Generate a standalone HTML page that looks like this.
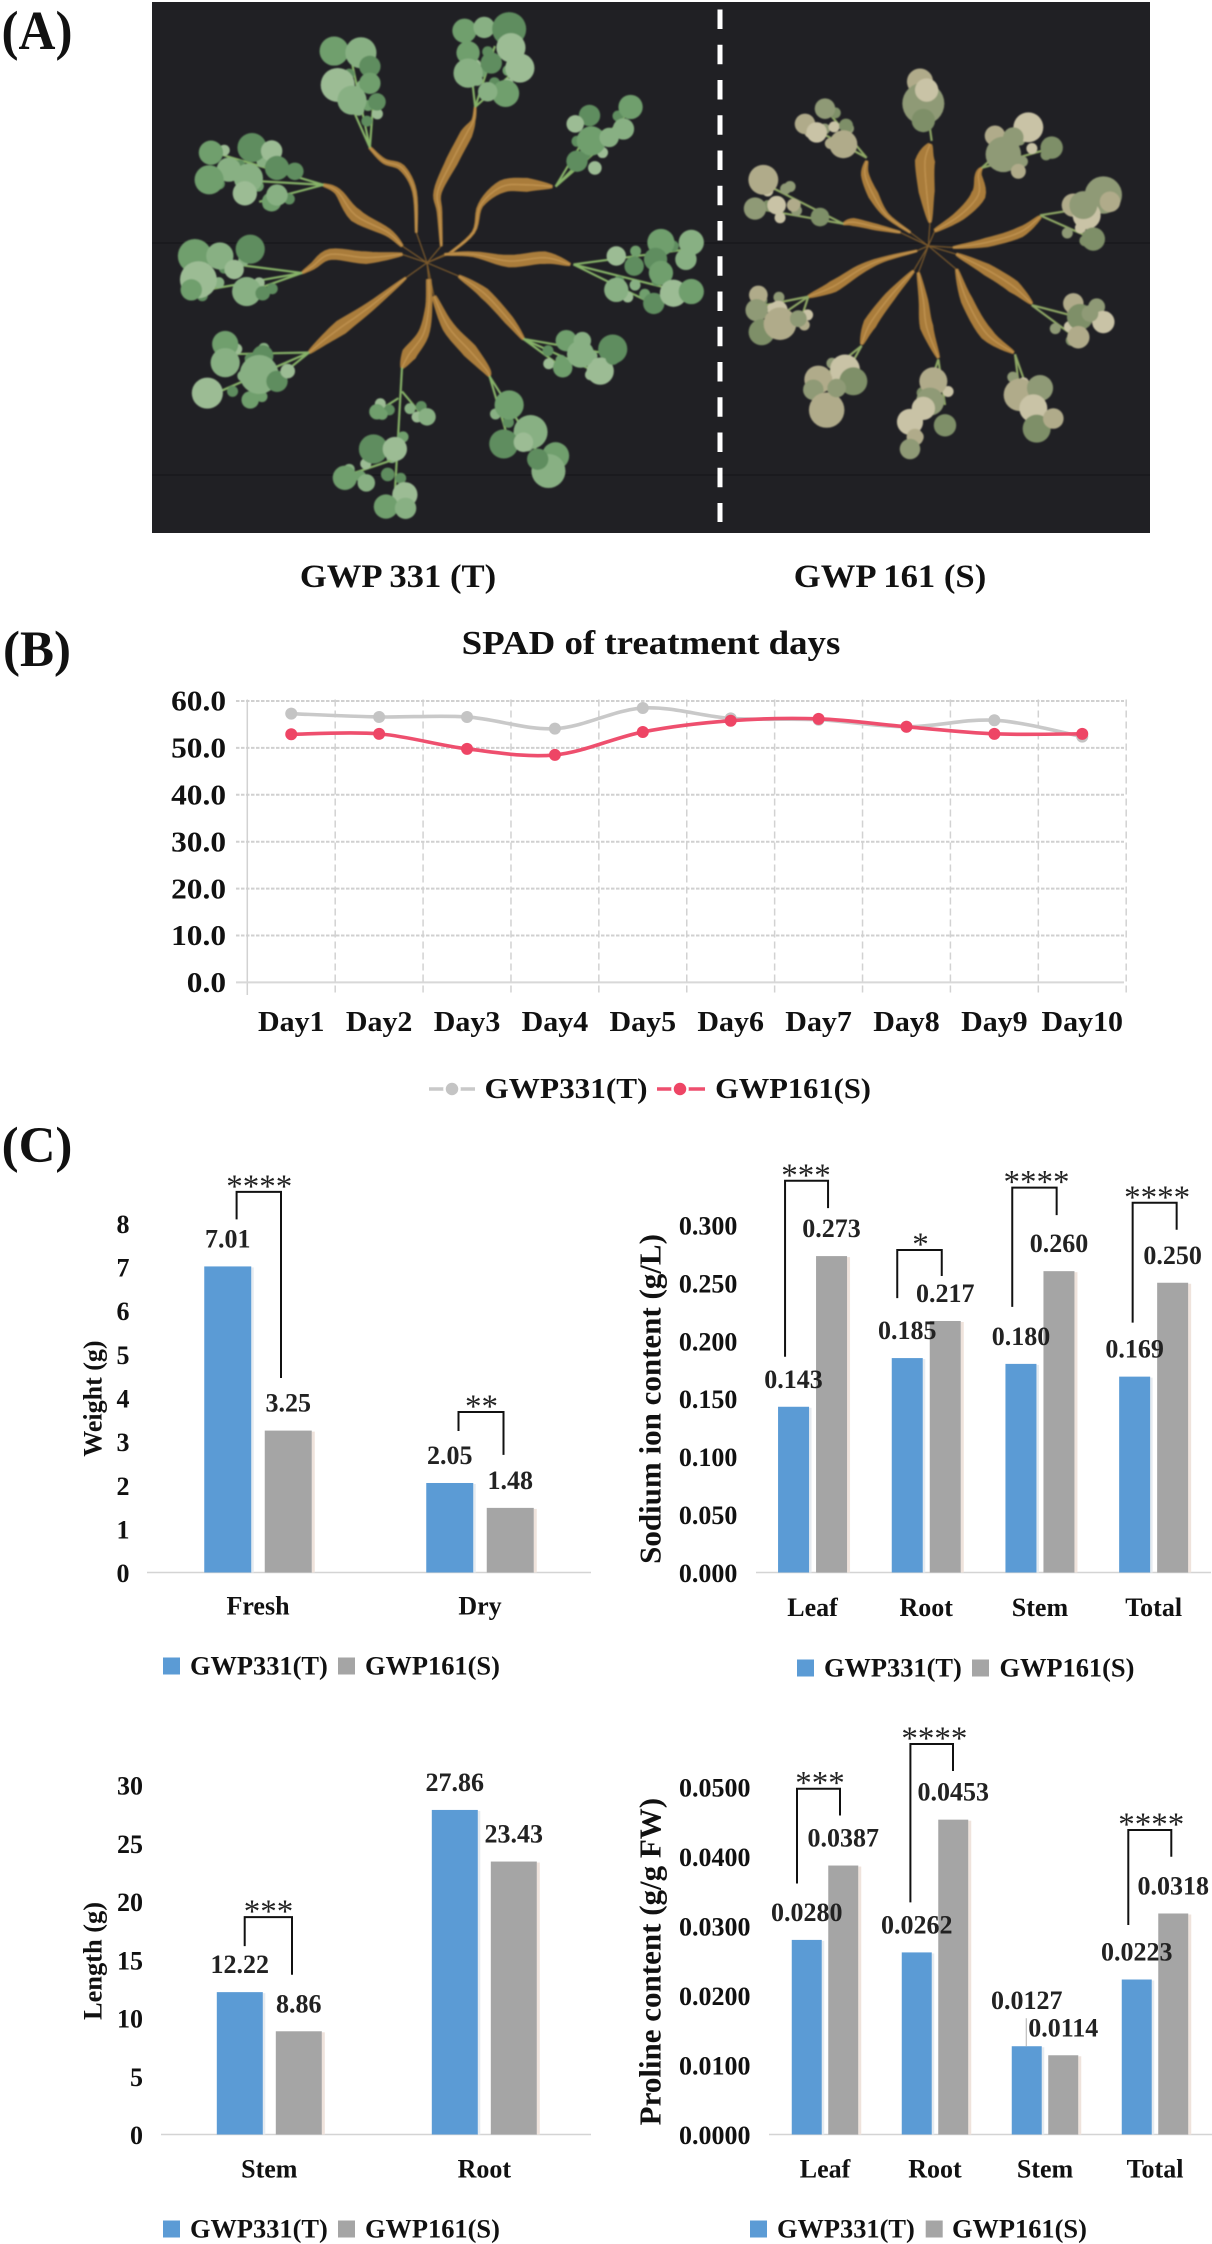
<!DOCTYPE html>
<html lang="en">
<head>
<meta charset="utf-8">
<title>GWP 331 and GWP 161 salt tolerance figure</title>
<style>
html,body{margin:0;padding:0;background:#fff;}
#figure{display:block;width:1212px;height:2244px;}
text{font-family:"Liberation Serif",serif;}
</style>
</head>
<body>
<svg id="figure" xmlns="http://www.w3.org/2000/svg" width="1212" height="2244" viewBox="0 0 1212 2244">
  <defs>
    <filter id="soften" x="-5%" y="-5%" width="110%" height="110%"><feGaussianBlur stdDeviation="0.7"/></filter>
  </defs>
  <rect x="0" y="0" width="1212" height="2244" fill="#ffffff"/>
  <g id="photo">
    <rect x="152" y="2" width="998" height="531" fill="#202024"/>
    <rect x="152" y="242" width="998" height="2" fill="#1a1a1e"/>
    <rect x="152" y="474" width="998" height="2" fill="#1a1a1e"/>
    <g id="plants" filter="url(#soften)"></g>
    <line x1="720" y1="9.5" x2="720" y2="522" stroke="#ffffff" stroke-width="5" stroke-dasharray="19.5 15.75"/>
  </g>
  <g id="panels"></g>
</svg>
<script>
/* ---------- chart data ---------- */
const spadDays = ['Day1','Day2','Day3','Day4','Day5','Day6','Day7','Day8','Day9','Day10'];
const spadT = [57.3,56.6,56.6,54.1,58.5,56.3,56.0,54.5,55.9,52.4];
const spadS = [52.9,53.0,49.8,48.5,53.4,55.8,56.2,54.5,53.0,53.0];
const spadTicks = [0,10,20,30,40,50,60];

const weightCategories = ['Fresh','Dry'];
const weightT = [7.01,2.05];
const weightS = [3.25,1.48];
const weightTicks = [0,1,2,3,4,5,6,7,8];
const weightStars = ['****','**'];

const sodiumCategories = ['Leaf','Root','Stem','Total'];
const sodiumT = [0.143,0.185,0.180,0.169];
const sodiumS = [0.273,0.217,0.260,0.250];
const sodiumTicks = [0,0.05,0.1,0.15,0.2,0.25,0.3];
const sodiumStars = ['***','*','****','****'];

const lengthCategories = ['Stem','Root'];
const lengthT = [12.22,27.86];
const lengthS = [8.86,23.43];
const lengthTicks = [0,5,10,15,20,25,30];
const lengthStars = ['***',''];

const prolineCategories = ['Leaf','Root','Stem','Total'];
const prolineT = [0.0280,0.0262,0.0127,0.0223];
const prolineS = [0.0387,0.0453,0.0114,0.0318];
const prolineTicks = [0,0.01,0.02,0.03,0.04,0.05];
const prolineStars = ['***','****','','****'];

const seriesNames = ['GWP331(T)','GWP161(S)'];

/* ---------- helpers ---------- */
const NS = 'http://www.w3.org/2000/svg';
const panels = document.getElementById('panels');
const plantsLayer = document.getElementById('plants');

function svgEl(tag, parent, name, attrs) {
  const el = document.createElementNS(NS, tag);
  for (const k in attrs) el.setAttribute(k, attrs[k]);
  
  
  parent.appendChild(el);
  return el;
}
function label(parent, name, str, cx, cy, o) {
  o = o || {};
  const fs = o.size || 26, sx = o.sx || 1;
  const el = svgEl('text', parent, name, {
    'font-size': fs,
    'font-weight': o.weight || 'bold',
    fill: o.fill || '#111111',
    'text-anchor': o.anchor || 'middle',
    transform: 'translate(' + cx + ',' + (cy + (o.lift === undefined ? 0.33 : o.lift) * fs) + ') scale(' + sx + ',1)'
  });
  el.textContent = str;
  return el;
}

/* ---------- photo plants: root centre-line [x,y,halfWidth], stems [x1,y1,x2,y2], leaves [x,y,r] ---------- */
const healthyPlants = [
  {root:[[740,680,2],[735,560,5],[700,490,8],[650,470,6],[610,430,3]],
   stems:[[610,430,560,180],[610,430,530,240],[610,430,620,290]],
   leaves:[[510,145,30],[585,150,32],[610,190,22],[520,245,35],[610,240,22],[560,290,30],[630,295,18]]},
  {root:[[810,720,2],[805,620,6],[800,560,10],[840,470,16],[880,390,16],[900,350,4],[905,310,2]],
   stems:[[905,310,960,130],[905,310,890,170],[905,310,1020,200]],
   leaves:[[875,85,25],[930,75,22],[1000,80,35],[1005,135,30],[885,150,24],[885,210,30],[950,180,22],[1030,195,30],[990,270,28],[940,265,20]]},
  {root:[[830,745,2],[900,680,3],[920,600,6],[980,545,16],[1050,540,18],[1120,545,3]],
   stems:[[1130,545,1340,320],[1130,545,1230,370],[1130,545,1300,390]],
   leaves:[[1340,310,25],[1320,375,22],[1225,335,22],[1185,360,18],[1230,410,30],[1280,400,20],[1190,470,22],[1240,490,14]]},
  {root:[[700,720,3],[660,680,10],[570,630,18],[520,560,8],[480,540,3]],
   stems:[[480,540,150,520],[480,540,160,440],[480,540,300,590]],
   leaves:[[165,445,25],[215,495,25],[280,430,30],[335,440,22],[160,525,30],[270,520,30],[350,490,25],[260,565,25],[335,590,20],[350,570,22],[400,500,18]]},
  {root:[[700,745,3],[600,755,16],[500,745,14],[450,780,8],[420,800,2]],
   stems:[[420,800,100,860],[420,800,120,760],[420,800,260,860]],
   leaves:[[120,750,35],[190,750,28],[275,730,30],[130,820,38],[110,850,22],[265,855,30],[310,860,15],[230,790,20]]},
  {root:[[820,745,2],[900,745,6],[1000,765,16],[1100,755,16],[1170,775,3]],
   stems:[[1180,775,1500,730],[1180,775,1500,860],[1180,775,1400,890]],
   leaves:[[1425,710,28],[1510,710,26],[1410,760,24],[1300,750,20],[1425,800,25],[1300,850,25],[1405,890,22],[1460,860,28],[1510,855,26],[1495,760,22],[1350,780,20]]},
  {root:[[860,810,3],[930,860,14],[1000,940,12],[1040,995,3]],
   stems:[[1040,995,1310,1045],[1040,995,1260,1100],[1040,995,1150,1080]],
   leaves:[[1160,1000,22],[1205,1000,18],[1290,1025,30],[1255,1090,28],[1150,1080,20],[1200,1040,28],[1290,1050,15]]},
  {root:[[790,870,5],[830,960,16],[890,1030,20],[935,1085,10],[945,1105,2]],
   stems:[[945,1105,1110,1380],[945,1105,1000,1300]],
   leaves:[[1000,1190,30],[1060,1270,35],[985,1305,30],[1040,1300,20],[1130,1340,28],[1110,1385,35],[1080,1350,22]]},
  {root:[[775,820,6],[775,900,8],[760,980,14],[720,1040,20],[700,1080,3]],
   stems:[[700,1080,680,1450],[700,1150,760,1225],[690,1170,630,1210],[680,1350,540,1400]],
   leaves:[[630,1210,16],[770,1225,18],[620,1320,30],[680,1320,25],[540,1405,25],[600,1420,18],[660,1395,14],[708,1455,26],[655,1490,25],[710,1495,22]]},
  {root:[[710,815,2],[610,900,12],[530,960,20],[480,1000,12],[440,1035,3]],
   stems:[[440,1035,190,1150],[440,1035,210,1040],[440,1035,280,1170]],
   leaves:[[205,1010,27],[205,1065,30],[310,1045,22],[155,1155,32],[275,1175,18],[300,1100,40],[350,1120,22],[380,1090,15]]}
];
const stressedPlants = [
  {root:[[570,680,2],[500,630,6],[460,570,14],[435,510,10],[440,470,3]],
   stems:[[440,460,255,360],[440,460,320,320]],
   leaves:[[255,360,22],[315,315,22],[290,385,22],[378,365,15],[370,420,30]]},
  {root:[[630,650,3],[620,560,22],[615,470,28],[630,420,5]],
   stems:[[635,410,610,230]],
   leaves:[[600,235,28],[610,300,45],[620,260,25],[610,350,25]]},
  {root:[[645,675,4],[720,630,14],[775,570,20],[775,510,8],[785,490,2]],
   stems:[[785,490,930,360],[785,490,1000,430]],
   leaves:[[825,395,22],[850,450,38],[925,370,32],[995,430,24],[895,500,16],[880,400,22]]},
  {root:[[700,725,2],[800,710,12],[900,680,14],[960,635,4]],
   stems:[[960,630,1150,600],[960,630,1120,700]],
   leaves:[[1060,600,25],[1150,570,40],[1100,630,30],[1120,700,25],[1170,590,22],[1090,600,30]]},
  {root:[[540,680,2],[470,665,8],[400,650,10],[370,655,2]],
   stems:[[370,655,120,530],[370,655,110,610]],
   leaves:[[130,525,32],[105,610,24],[170,600,20],[300,635,20],[220,600,14],[210,545,12]]},
  {root:[[590,735,2],[490,760,6],[420,790,12],[340,840,16],[265,870,3]],
   stems:[[265,870,130,960],[265,870,110,900],[265,870,235,960]],
   leaves:[[115,865,20],[110,910,24],[175,910,20],[125,975,28],[180,950,35],[235,935,18]]},
  {root:[[580,795,3],[510,870,14],[450,950,18],[425,1010,3]],
   stems:[[425,1015,320,1200],[425,1015,280,1130]],
   leaves:[[295,1115,30],[280,1145,22],[375,1085,32],[400,1120,30],[320,1205,38],[350,1140,20]]},
  {root:[[595,800,3],[610,880,12],[620,960,18],[655,1050,3]],
   stems:[[655,1055,570,1310],[655,1055,675,1190],[625,1090,620,1180]],
   leaves:[[640,1120,30],[630,1180,30],[570,1240,28],[675,1250,24],[585,1285,18],[570,1320,22],[610,1200,25]]},
  {root:[[710,790,3],[740,880,16],[800,980,18],[880,1035,3]],
   stems:[[885,1040,960,1250],[885,1040,900,1160]],
   leaves:[[900,1160,35],[960,1140,28],[940,1200,30],[950,1260,30],[1000,1230,22]]},
  {root:[[710,745,3],[800,790,16],[880,840,18],[935,890,3]],
   stems:[[935,895,1150,950],[935,895,1080,1000]],
   leaves:[[1060,890,22],[1130,900,18],[1150,945,24],[1080,930,28],[1075,990,24],[1110,920,18]]}
];
const healthyX = x => 152 + x / 2.8;
const healthyY = y => 2 + y / 2.953;
const stressedX = x => 720 + x / 3;
const stressedY = y => 2 + y / 2.953;

function smoothRoot(pts) {
  const out = [];
  for (let i = 0; i < pts.length - 1; i++) {
    const p0 = pts[Math.max(0, i - 1)], p1 = pts[i], p2 = pts[i + 1], p3 = pts[Math.min(pts.length - 1, i + 2)];
    for (let s = 0; s < 6; s++) {
      const t = s / 6, t2 = t * t, t3 = t2 * t;
      const cr = k => 0.5 * (2 * p1[k] + (p2[k] - p0[k]) * t + (2 * p0[k] - 5 * p1[k] + 4 * p2[k] - p3[k]) * t2 + (3 * p1[k] - p0[k] - 3 * p2[k] + p3[k]) * t3);
      out.push([cr(0), cr(1), Math.max(0.6, p1[2] + (p2[2] - p1[2]) * t)]);
    }
  }
  out.push(pts[pts.length - 1]);
  return out;
}
function drawPlant(p, mapX, mapY, scale, colors, stemColor, hubX, hubY) {
  const g = svgEl('g', plantsLayer, 'plant', {});
  const pts = smoothRoot(p.root.map(r => [mapX(r[0]), mapY(r[1]), r[2] * scale]));
  const a = [], b = [];
  pts.forEach(function (pt, i) {
    const prev = pts[Math.max(0, i - 1)], next = pts[Math.min(pts.length - 1, i + 1)];
    const dx = next[0] - prev[0], dy = next[1] - prev[1], l = Math.hypot(dx, dy) || 1;
    a.push((pt[0] - dy / l * pt[2]) + ',' + (pt[1] + dx / l * pt[2]));
    b.unshift((pt[0] + dy / l * pt[2]) + ',' + (pt[1] - dx / l * pt[2]));
  });
  svgEl('line', g, 'plant-root-hair', {x1: hubX, y1: hubY, x2: pts[0][0], y2: pts[0][1], stroke: '#7c5a2c', 'stroke-width': 1.2});
  svgEl('polygon', g, 'plant-root', {points: a.concat(b).join(' '), fill: '#a97b3a', stroke: '#a97b3a', 'stroke-width': 1.5, 'stroke-linejoin': 'round'});
  svgEl('polyline', g, 'plant-root-highlight', {points: pts.map(q => q[0] + ',' + q[1]).join(' '), fill: 'none', stroke: '#c0934f', 'stroke-width': 1.4});
  p.stems.forEach(function (s, si) {
    const x1 = mapX(s[0]), y1 = mapY(s[1]), x2 = mapX(s[2]), y2 = mapY(s[3]);
    svgEl('line', g, 'plant-stem', {x1: x1, y1: y1, x2: x2, y2: y2, stroke: stemColor, 'stroke-width': 2.2});
    [0.55, 0.72, 0.88].forEach(function (t, ti) {
      const dx = x2 - x1, dy = y2 - y1, l = Math.hypot(dx, dy) || 1, side = (ti + si) % 2 ? 5 : -5;
      svgEl('circle', g, 'plant-small-leaf', {cx: x1 + dx * t - dy / l * side, cy: y1 + dy * t + dx / l * side, r: 5.5, fill: colors[(ti + si) % colors.length]});
    });
  });
  p.leaves.forEach(function (l, i) {
    svgEl('circle', g, 'plant-leaf', {cx: mapX(l[0]), cy: mapY(l[1]), r: l[2] * scale * 1.4, fill: colors[i % colors.length]});
  });
}
healthyPlants.forEach(function (p) {
  drawPlant(p, healthyX, healthyY, 1 / 2.88, ['#6f9f6d','#88b083','#5e8d5f','#9cbc94'], '#86b268', healthyX(770), healthyY(770));
});
stressedPlants.forEach(function (p) {
  drawPlant(p, stressedX, stressedY, 1 / 3, ['#b0ab8a','#8f9a76','#c9c3a6','#7e8f68'], '#8ea765', stressedX(625), stressedY(720));
});

label(panels, 'panel-label-a', '(A)', 37, 31, {size: 55, sx: 0.93});
label(panels, 'genotype-label-gwp331', 'GWP 331 (T)', 398, 576, {size: 33, sx: 1.05});
label(panels, 'genotype-label-gwp161', 'GWP 161 (S)', 890, 576, {size: 33, sx: 1.05});

/* ---------- panel B line chart ---------- */
(function () {
  const g = svgEl('g', panels, 'spad-line-chart', {});
  label(panels, 'panel-label-b', '(B)', 37, 649, {size: 51});
  label(g, 'spad-chart-title', 'SPAD of treatment days', 651, 643, {size: 34, sx: 1.085});
  const plot = {x0: 247.3, x1: 1126.2, y0: 982.4, yTop: 701, max: 60};
  const xBand = (plot.x1 - plot.x0) / spadDays.length;
  const xPos = i => plot.x0 + xBand * (i + 0.5);
  const yPos = v => plot.y0 - (v / plot.max) * (plot.y0 - plot.yTop);

  for (let i = 0; i <= spadDays.length; i++) {
    const x = plot.x0 + xBand * i;
    svgEl('line', g, 'spad-vertical-gridline', {x1: x, y1: 699.5, x2: x, y2: 995, stroke: '#d2d2d2', 'stroke-width': 1.5, 'stroke-dasharray': i === 0 ? 'none' : '7 4'});
  }
  spadTicks.forEach(function (t) {
    const y = yPos(t);
    svgEl('line', g, 'spad-horizontal-gridline', {x1: 236, y1: y, x2: 1124, y2: y, stroke: t === 0 ? '#d8d8d8' : '#d0d0d0', 'stroke-width': 2, 'stroke-dasharray': t === 0 ? 'none' : '3.5 1.5'});
    label(g, 'spad-y-tick-label', t.toFixed(1), 226, y + 0.5, {size: 28, sx: 1.12, anchor: 'end'});
  });
  spadDays.forEach(function (d, i) {
    label(g, 'spad-x-tick-label', d, xPos(i), 1022, {size: 28, sx: 1.07});
  });
  function smoothPath(vals) {
    const pts = vals.map((v, i) => [xPos(i), yPos(v)]);
    let d = 'M' + pts[0][0] + ' ' + pts[0][1];
    for (let i = 0; i < pts.length - 1; i++) {
      const p0 = pts[Math.max(0, i - 1)], p1 = pts[i], p2 = pts[i + 1], p3 = pts[Math.min(pts.length - 1, i + 2)];
      d += 'C' + (p1[0] + (p2[0] - p0[0]) / 6) + ' ' + (p1[1] + (p2[1] - p0[1]) / 6) + ' ' +
           (p2[0] - (p3[0] - p1[0]) / 6) + ' ' + (p2[1] - (p3[1] - p1[1]) / 6) + ' ' + p2[0] + ' ' + p2[1];
    }
    return d;
  }
  svgEl('path', g, 'spad-line-gwp331', {d: smoothPath(spadT), fill: 'none', stroke: '#c9c9c9', 'stroke-width': 3.6});
  spadT.forEach(function (v, i) {
    svgEl('circle', g, 'spad-point-gwp331', {cx: xPos(i), cy: yPos(v), r: 6, fill: '#c4c4c4'});
  });
  svgEl('path', g, 'spad-line-gwp161', {d: smoothPath(spadS), fill: 'none', stroke: '#ee4f6e', 'stroke-width': 3.6});
  spadS.forEach(function (v, i) {
    svgEl('circle', g, 'spad-point-gwp161', {cx: xPos(i), cy: yPos(v), r: 6, fill: '#ee4565'});
  });

  svgEl('line', g, 'spad-legend-line-gwp331', {x1: 429, y1: 1089, x2: 475, y2: 1089, stroke: '#c9c9c9', 'stroke-width': 3.6});
  svgEl('circle', g, 'spad-legend-marker-gwp331', {cx: 452, cy: 1089, r: 7.5, fill: '#c4c4c4', stroke: '#ffffff', 'stroke-width': 2.5});
  label(g, 'spad-legend-text-gwp331', seriesNames[0], 566, 1089, {size: 28, sx: 1.115});
  svgEl('line', g, 'spad-legend-line-gwp161', {x1: 657, y1: 1089, x2: 705, y2: 1089, stroke: '#ee4f6e', 'stroke-width': 3.6});
  svgEl('circle', g, 'spad-legend-marker-gwp161', {cx: 680, cy: 1089, r: 7.5, fill: '#ee4565', stroke: '#ffffff', 'stroke-width': 2.5});
  label(g, 'spad-legend-text-gwp161', seriesNames[1], 793, 1089, {size: 28, sx: 1.09});
})();

/* ---------- panel C bar charts ---------- */
label(panels, 'panel-label-c', '(C)', 37, 1145, {size: 51});

function barChart(name, cats, valsT, valsS, ticks, stars, layout) {
  const g = svgEl('g', panels, name, {});
  const band = (layout.x1 - layout.x0) / cats.length;
  const center = i => layout.x0 + band * (i + 0.5);
  const y = v => layout.y0 - (v / layout.max) * (layout.y0 - layout.yTop);
  const dec = layout.decimals;

  svgEl('line', g, 'x-axis-line', {x1: layout.axisStart, y1: layout.y0, x2: layout.axisEnd, y2: layout.y0, stroke: '#d4d4d4', 'stroke-width': 1.5});
  ticks.forEach(function (t) {
    label(g, 'y-tick-label', t.toFixed(layout.tickDecimals), layout.tickRight, y(t) + 1, {size: 26, anchor: 'end'});
  });
  const title = label(g, 'y-axis-title', layout.title, 0, 0, {size: layout.titleSize, lift: 0});
  title.setAttribute('transform', 'translate(' + (layout.titleX + layout.titleSize * 0.33) + ',' + layout.titleY + ') rotate(-90)');

  cats.forEach(function (c, i) {
    const cx = center(i);
    const xT = cx - layout.gap / 2 - layout.barW, xS = cx + layout.gap / 2;
    const topT = y(valsT[i]), topS = y(valsS[i]);
    svgEl('rect', g, 'bar-shadow', {x: xS + layout.barW, y: topS + 1, width: 3, height: layout.y0 - topS - 1, fill: '#efe3dc'});
    svgEl('rect', g, 'bar-shadow', {x: xT + layout.barW, y: topT + 1, width: 2.5, height: layout.y0 - topT - 1, fill: '#e6ebf0'});
    svgEl('rect', g, 'bar-gwp331', {x: xT, y: topT, width: layout.barW, height: layout.y0 - topT, fill: '#5b9bd5'});
    svgEl('rect', g, 'bar-gwp161', {x: xS, y: topS, width: layout.barW, height: layout.y0 - topS, fill: '#a5a5a5'});
    label(g, 'category-label', c, cx, layout.catY, {size: 26});
    const raised = layout.raised && layout.raised.cat === i;
    const liftT = raised ? layout.raised.lift : 27.5;
    if (raised) {
      svgEl('line', g, 'data-label-leader', {x1: xT + layout.barW / 2 - 0.5, y1: topT - liftT + 18, x2: xT + layout.barW / 2 - 0.5, y2: topT, stroke: '#b0b0b0', 'stroke-width': 1});
    }
    label(g, 'value-label-gwp331', valsT[i].toFixed(dec), xT + layout.barW / 2, topT - liftT, {size: 26, fill: '#222222'});
    label(g, 'value-label-gwp161', valsS[i].toFixed(dec), xS + layout.barW / 2, topS - 27.5, {size: 26, fill: '#222222'});
    if (stars[i]) {
      const b = layout.brackets[i];
      const lx = cx + b[0], rx = cx + b[1];
      const ly = topT - b[2], ry = topS - b[3];
      const ty = Math.min(ly, ry) - b[4];
      svgEl('path', g, 'significance-bracket', {d: 'M' + lx + ' ' + ly + 'V' + ty + 'H' + rx + 'V' + ry, fill: 'none', stroke: '#111111', 'stroke-width': 2});
      label(g, 'significance-stars', stars[i], (lx + rx) / 2 + b[5], ty - 10.5, {size: 33, weight: 'normal', fill: '#222222', lift: 0.47});
    }
  });

  svgEl('rect', g, 'legend-swatch-gwp331', {x: layout.legend[0], y: layout.legendY - 8.5, width: 17, height: 17, fill: '#5b9bd5'});
  label(g, 'legend-text-gwp331', seriesNames[0], layout.legend[1], layout.legendY, {size: 26.4, anchor: 'start'});
  svgEl('rect', g, 'legend-swatch-gwp161', {x: layout.legend[2], y: layout.legendY - 8.5, width: 17, height: 17, fill: '#a5a5a5'});
  label(g, 'legend-text-gwp161', seriesNames[1], layout.legend[3], layout.legendY, {size: 26.4, anchor: 'start'});
}

barChart('weight-bar-chart', weightCategories, weightT, weightS, weightTicks, weightStars, {
  x0: 147, x1: 591, axisStart: 147, axisEnd: 591, y0: 1572.5, yTop: 1223.2, max: 8, barW: 47, gap: 13.5,
  decimals: 2, tickDecimals: 0, tickRight: 129.5, title: 'Weight (g)', titleSize: 26, titleX: 93, titleY: 1398.6,
  catY: 1606, legendY: 1666, legend: [163, 190, 338, 365],
  brackets: [[-21.4, 23, 47, 52.6, 27.6, 0.5], [-21.5, 23.5, 52, 53, 19, 0.5]]
});
barChart('sodium-bar-chart', sodiumCategories, sodiumT, sodiumS, sodiumTicks, sodiumStars, {
  x0: 755.7, x1: 1210.5, axisStart: 756, axisEnd: 1211, y0: 1572.5, yTop: 1224.8, max: 0.3, barW: 31, gap: 7,
  decimals: 3, tickDecimals: 3, tickRight: 737.4, title: 'Sodium ion content (g/L)', titleSize: 31, titleX: 650.5, titleY: 1399,
  catY: 1607.5, legendY: 1668, legend: [797, 824, 972, 999.5],
  brackets: [[-27.5, 15.5, 50, 48, 27.3, -0.5], [-29, 15.5, 60, 45, 26, 1], [-27.7, 16.7, 57, 56, 27.5, 2], [-21, 23, 54, 53, 27, 2.5]]
});
barChart('length-bar-chart', lengthCategories, lengthT, lengthS, lengthTicks, lengthStars, {
  x0: 161.8, x1: 591.8, axisStart: 161, axisEnd: 591, y0: 2134.5, yTop: 1785, max: 30, barW: 46, gap: 13,
  decimals: 2, tickDecimals: 0, tickRight: 143, title: 'Length (g)', titleSize: 26.4, titleX: 93, titleY: 1961,
  catY: 2168.8, legendY: 2229, legend: [163, 190, 338, 365],
  brackets: [[-24.6, 22.7, 46, 56.5, 29, 0.2], null]
});
barChart('proline-bar-chart', prolineCategories, prolineT, prolineS, prolineTicks, prolineStars, {
  x0: 770, x1: 1210, axisStart: 769, axisEnd: 1212, y0: 2134.5, yTop: 1787, max: 0.05, barW: 30, gap: 6.5,
  decimals: 4, tickDecimals: 4, tickRight: 750.5, title: 'Proline content (g/g FW)', titleSize: 31, titleX: 650.5, titleY: 1961.6,
  catY: 2168.8, legendY: 2229, legend: [750, 777, 925.7, 952],
  brackets: [[-28, 15, 56.4, 50, 26.8, 1.5], [-24.6, 18, 50, 48.7, 27, 2.7], null, [-26.7, 16.3, 54.5, 56.7, 26.8, 1.5]],
  raised: {cat: 2, lift: 46}
});
</script>
</body>
</html>
